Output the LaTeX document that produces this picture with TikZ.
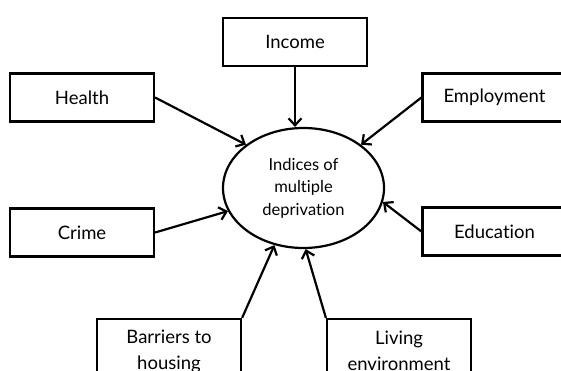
\documentclass[tikz,border=0pt]{standalone}
\usepackage{fontspec}
\setmainfont{Lato}[Ligatures=NoCommon]
\usetikzlibrary{arrows.meta, shapes.geometric}

\begin{document}
\begin{tikzpicture}[x = 1pt, y = -1pt, line width = 2.2pt,
                    >={Straight Barb[length=7pt, width=13pt]},
                    box/.style = {rectangle, draw, minimum width = 144pt, minimum height = 48pt,
                                  align = center, font = \fontsize{18.5}{26}\selectfont},
                    hub/.style = {ellipse, draw, minimum width = 161pt, minimum height = 120pt,
                                  inner sep = 0pt, align = center, font = \fontsize{16.5}{22.5}\selectfont}]
  \useasboundingbox (0, 0) rectangle (561, 371);
  \clip (0, 0) rectangle (561, 371);

  \node [hub] (IMD) at (303.5, 188) {Indices of\\multiple\\deprivation};
  \node [box] (Inc) at (295, 42) {Income};
  \node [box] (Hlth) at (82, 97.5) {Health};
  \node [box] (Emp) at (494.5, 97.5) {Employment};
  \node [box] (Crim) at (82, 232.5) {Crime};
  \node [box] (Edu) at (494.5, 231.5) {Education};
  \node [box, minimum height = 64pt] (Bar) at (169, 351) {Barriers to\\housing};
  \node [box, minimum height = 64pt] (Liv) at (399, 351) {Living\\environment};

  \draw [->] (Inc.south) -- (Inc.south |- IMD.north);
  \draw [->] (Hlth.east) -- (IMD.143);
  \draw [->] (Emp.west) -- (IMD.37);
  \draw [->] (Crim.east) -- (IMD.197);
  \draw [->] (Edu.west) -- (IMD.350);
  \draw [->] (Bar.north east) -- (IMD.243);
  \draw [->] (Liv.north west) -- (IMD.272);
\end{tikzpicture}
\end{document}
